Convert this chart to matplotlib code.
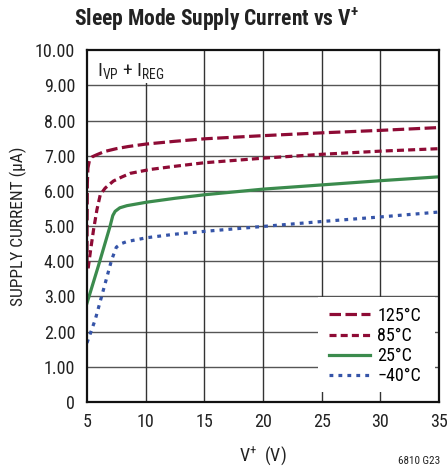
import matplotlib
matplotlib.use('Agg')
import matplotlib.pyplot as plt
from matplotlib import font_manager as fm
from matplotlib.patches import Rectangle

# pick a narrow sans if one is installed, otherwise Liberation Sans (Arial metrics)
installed = {f.name for f in fm.fontManager.ttflist}
narrow = [n for n in ['Liberation Sans Narrow', 'Roboto Condensed', 'Open Sans Condensed',
                      'DejaVu Sans Condensed'] if n in installed]
if narrow:
    font = narrow[0]
    k = 1.0
else:
    font = 'Liberation Sans'
    k = 0.84

plt.rcParams['font.family'] = [font, 'DejaVu Sans']
plt.rcParams['mathtext.fontset'] = 'custom'
plt.rcParams['mathtext.rm'] = font
plt.rcParams['mathtext.it'] = font
plt.rcParams['mathtext.bf'] = font + ':bold'

# == data ==
v_125 = [5.0, 5.01, 5.03, 5.08, 5.2, 5.45, 5.85, 6.5, 7.5, 8.5, 10.0, 12.5, 15.0, 20.0, 25.0, 30.0, 35.0]
i_125 = [3.8, 5.0, 6.2, 6.65, 6.85, 6.97, 7.03, 7.12, 7.2, 7.26, 7.33, 7.41, 7.48, 7.57, 7.65, 7.72, 7.8]

v_85 = [5.1, 5.3, 5.56, 5.85, 6.13, 6.55, 7.25, 8.0, 8.7, 10.4, 12.5, 15.0, 20.0, 25.0, 30.0, 35.0]
i_85 = [3.8, 4.3, 4.9, 5.47, 5.89, 6.08, 6.28, 6.4, 6.5, 6.61, 6.7, 6.8, 6.93, 7.04, 7.13, 7.2]

v_25 = [5.0, 6.0, 6.97, 7.2, 7.4, 7.8, 8.4, 10.1, 12.5, 15.0, 20.0, 25.0, 30.0, 35.0]
i_25 = [2.81, 3.9, 5.0, 5.3, 5.42, 5.52, 5.58, 5.68, 5.79, 5.89, 6.05, 6.17, 6.29, 6.4]

v_m40 = [5.0, 5.7, 6.4, 7.1, 7.5, 7.9, 8.4, 10.1, 12.5, 15.0, 20.0, 25.0, 30.0, 35.0]
i_m40 = [1.68, 2.34, 3.19, 4.04, 4.4, 4.5, 4.56, 4.67, 4.77, 4.85, 4.99, 5.13, 5.26, 5.4]

xticks = [5, 10, 15, 20, 25, 30, 35]
yticks = [0, 1, 2, 3, 4, 5, 6, 7, 8, 9, 10]
ytick_labels = ['0', '1.00', '2.00', '3.00', '4.00', '5.00', '6.00', '7.00', '8.00', '9.00', '10.00']

red = '#8e0b35'
green = '#3b8b4d'
blue = '#3554a8'
ink = '#222222'

fig = plt.figure(figsize=(4.47, 4.73), dpi=100)
ax = fig.add_axes([0.1946, 0.150, 0.7875, 0.744])

# grid drawn by hand so the legend box and the note can hide it
for yv in yticks[1:-1]:
    ax.axhline(yv, color='#555555', lw=1.0, zorder=1)
for xv in xticks[1:-1]:
    ax.axvline(xv, color='#333333', lw=1.0, zorder=1)
ax.add_patch(Rectangle((0.656, 0.028), 0.333, 0.27, transform=ax.transAxes,
                       facecolor='white', edgecolor='none', zorder=1.5))
ax.add_patch(Rectangle((0.0, 0.906), 0.22, 0.094, transform=ax.transAxes,
                       facecolor='white', edgecolor='none', zorder=1.5))

lw = 2.3
ax.plot(v_125, i_125, color=red, lw=lw, dashes=(3.6, 1.4), label='125°C', zorder=3)
ax.plot(v_85, i_85, color=red, lw=lw, dashes=(2.2, 1.3), label='85°C', zorder=3)
ax.plot(v_25, i_25, color=green, lw=lw, label='25°C', zorder=3)
ax.plot(v_m40, i_m40, color=blue, lw=lw, dashes=(1.2, 1.6), label='\u221240°C', zorder=3)

ax.set_xlim(5, 35)
ax.set_ylim(0, 10)
ax.set_xticks(xticks)
ax.set_yticks(yticks)
ax.set_yticklabels(ytick_labels)
ax.tick_params(direction='in', length=0, labelsize=13 * k, colors=ink)
ax.tick_params(axis='y', pad=8.5)
ax.tick_params(axis='x', pad=8)
for s in ax.spines.values():
    s.set_linewidth(1.6)
    s.set_color('#111111')
    s.set_zorder(4)

leg = ax.legend(loc='lower right', bbox_to_anchor=(0.985, 0.012), frameon=False,
                fontsize=13 * k, handlelength=2.25, handletextpad=0.4, labelspacing=0.12,
                borderaxespad=0.3)
leg.set_zorder(5)

ax.text(0.028, 0.97, r'I$_{\mathrm{VP}}$ + I$_{\mathrm{REG}}$', transform=ax.transAxes,
        fontsize=14 * k, va='top', ha='left', color=ink, zorder=2)

ax.set_ylabel('SUPPLY CURRENT (\u00b5A)', fontsize=12.5 * k, color=ink, labelpad=6)
ax.set_xlabel(r'V$^{+}$  (V)', fontsize=13 * k, color=ink, labelpad=9)

fig.text(0.483, 0.960, r'Sleep Mode Supply Current vs V$^{\mathbf{+}}$', ha='center', va='center',
         fontsize=15.5 * k, fontweight='bold', color=ink)
fig.text(0.985, 0.015, '6810 G23', ha='right', va='bottom', fontsize=8 * k, color=ink)

fig.savefig('out.png', dpi=100)
